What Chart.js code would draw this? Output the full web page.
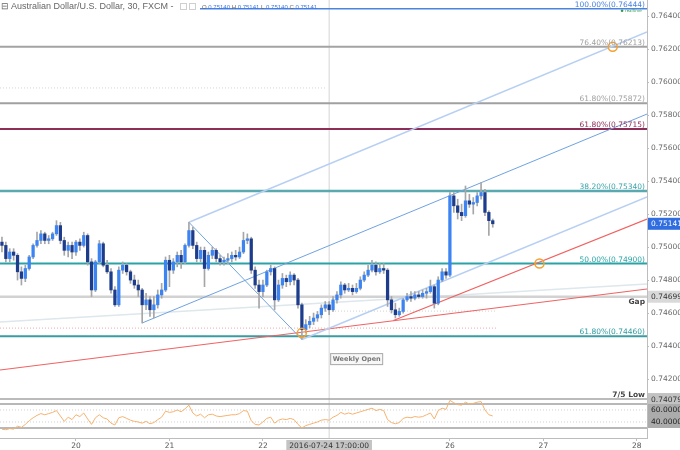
<!DOCTYPE html>
<html>
<head>
<meta charset="utf-8">
<script src="https://cdn.jsdelivr.net/npm/chart.js@4.4.1/dist/chart.umd.min.js"></script>
<style>
html,body{margin:0;padding:0;background:#ffffff;overflow:hidden;}
#wrap{position:relative;width:680px;height:450px;}
canvas{display:block;}
</style>
</head>
<body>
<div id="wrap"><canvas id="chart" width="680" height="450"></canvas></div>
<script>
// ================= DATA =================
// x = trading hours counted from 20 Jul 00:00 (weekend removed); one candle per hour
const firstHour = -19;
const opens = [
0.7503,0.7501,0.7493,0.7497,0.7495,0.7485,0.7481,0.7487,0.7494,0.7501,
0.7504,0.7508,0.7504,0.7505,0.7508,0.7513,0.7504,0.7498,0.7501,0.7497,
0.7503,0.7501,0.7507,0.7491,0.7474,0.7491,0.7502,0.7489,0.7485,0.7474,
0.7465,0.7486,0.7489,0.7485,0.7480,0.7477,0.7474,0.7465,0.7468,0.7462,
0.7465,0.7471,0.7474,0.7492,0.7486,0.7491,0.7495,0.7491,0.7501,0.7510,
0.7501,0.7493,0.7498,0.7487,0.7495,0.7498,0.7493,0.7491,0.7492,0.7493,
0.7495,0.7494,0.7497,0.7504,0.7505,0.7486,0.7477,0.7473,0.7477,0.7485,
0.7487,0.7468,0.7477,0.7481,0.7479,0.7483,0.7480,0.7465,0.7450,0.7453,
0.7455,0.7457,0.7459,0.7463,0.7465,0.7462,0.7468,0.7471,0.7477,0.7474,
0.7475,0.7473,0.7475,0.7480,0.7483,0.7486,0.7489,0.7485,0.7487,0.7486,
0.7468,0.7462,0.7459,0.7461,0.7468,0.7470,0.7469,0.7471,0.7470,0.7472,
0.7473,0.7476,0.7466,0.7480,0.7485,0.7483,0.7531,0.7525,0.7521,0.7519,
0.7528,0.7526,0.7527,0.7531,0.7533,0.7521,0.7516];
const highs = [
0.7506,0.7503,0.7499,0.7499,0.7496,0.7488,0.7489,0.7495,0.7502,0.7509,
0.7510,0.7509,0.7507,0.7509,0.7516,0.7515,0.7506,0.7503,0.7503,0.7504,
0.7505,0.7509,0.7508,0.7493,0.7492,0.7504,0.7503,0.7492,0.7487,0.7476,
0.7488,0.7491,0.7490,0.7486,0.7483,0.7480,0.7475,0.7472,0.7470,0.7470,
0.7474,0.7478,0.7494,0.7495,0.7493,0.7497,0.7498,0.7502,0.7515,0.7512,
0.7503,0.7500,0.7500,0.7497,0.7500,0.7499,0.7495,0.7494,0.7496,0.7497,
0.7498,0.7500,0.7509,0.7508,0.7506,0.7488,0.7480,0.7480,0.7486,0.7489,
0.7488,0.7480,0.7484,0.7483,0.7485,0.7484,0.7481,0.7466,0.7456,0.7458,
0.7460,0.7461,0.7465,0.7467,0.7467,0.7470,0.7473,0.7479,0.7478,0.7478,
0.7477,0.7478,0.7482,0.7485,0.7489,0.7492,0.7491,0.7490,0.7490,0.7487,
0.7470,0.7466,0.7463,0.7469,0.7472,0.7473,0.7473,0.7473,0.7474,0.7475,
0.7480,0.7477,0.7482,0.7487,0.7487,0.7533,0.7533,0.7529,0.7526,0.7537,
0.7532,0.7530,0.7533,0.7539,0.7535,0.7522,0.7517];
const lows = [
0.7497,0.7491,0.7491,0.7492,0.7480,0.7477,0.7479,0.7486,0.7493,0.7500,
0.7502,0.7502,0.7502,0.7504,0.7507,0.7502,0.7495,0.7494,0.7493,0.7495,
0.7498,0.7500,0.7489,0.7470,0.7473,0.7490,0.7488,0.7484,0.7472,0.7464,
0.7464,0.7484,0.7483,0.7478,0.7475,0.7470,0.7454,0.7462,0.7458,0.7457,
0.7463,0.7469,0.7473,0.7476,0.7484,0.7488,0.7487,0.7490,0.7500,0.7499,
0.7491,0.7491,0.7476,0.7486,0.7493,0.7491,0.7489,0.7489,0.7490,0.7491,
0.7492,0.7493,0.7496,0.7502,0.7484,0.7475,0.7463,0.7470,0.7476,0.7483,
0.7462,0.7467,0.7475,0.7476,0.7477,0.7477,0.7463,0.7444,0.7448,0.7451,
0.7453,0.7455,0.7457,0.7461,0.7459,0.7461,0.7466,0.7469,0.7472,0.7473,
0.7471,0.7472,0.7474,0.7479,0.7482,0.7485,0.7483,0.7484,0.7484,0.7464,
0.7460,0.7457,0.7458,0.7460,0.7467,0.7467,0.7468,0.7469,0.7469,0.7469,
0.7472,0.7463,0.7465,0.7479,0.7481,0.7482,0.7521,0.7517,0.7516,0.7518,
0.7524,0.7520,0.7525,0.7529,0.7519,0.7507,0.7512];
const closes = [
0.7501,0.7493,0.7497,0.7495,0.7485,0.7481,0.7487,0.7494,0.7501,0.7504,
0.7508,0.7504,0.7505,0.7508,0.7513,0.7504,0.7498,0.7501,0.7497,0.7503,
0.7501,0.7507,0.7491,0.7474,0.7491,0.7502,0.7489,0.7485,0.7474,0.7465,
0.7486,0.7489,0.7485,0.7480,0.7477,0.7474,0.7465,0.7468,0.7462,0.7465,
0.7471,0.7474,0.7492,0.7486,0.7491,0.7495,0.7491,0.7501,0.7510,0.7501,
0.7493,0.7498,0.7487,0.7495,0.7498,0.7493,0.7491,0.7492,0.7493,0.7495,
0.7494,0.7497,0.7504,0.7505,0.7486,0.7477,0.7473,0.7477,0.7485,0.7487,
0.7468,0.7477,0.7481,0.7479,0.7483,0.7480,0.7465,0.7450,0.7453,0.7455,
0.7457,0.7459,0.7463,0.7465,0.7462,0.7468,0.7471,0.7477,0.7474,0.7475,
0.7473,0.7475,0.7480,0.7483,0.7486,0.7489,0.7485,0.7487,0.7486,0.7468,
0.7462,0.7459,0.7461,0.7468,0.7470,0.7469,0.7471,0.7470,0.7472,0.7473,
0.7476,0.7466,0.7480,0.7485,0.7483,0.7531,0.7525,0.7521,0.7519,0.7528,
0.7526,0.7527,0.7531,0.7533,0.7521,0.7516,0.75141];
const rsiValues = [
28,27,29,28,33,31,36,42,47,51,
54,52,54,56,59,50,41,48,44,52,
49,55,45,36,47,52,47,45,38,35,
47,49,46,43,41,40,38,41,37,39,
44,48,58,56,57,60,57,62,68,55,
50,53,47,52,53,50,49,50,51,52,
52,54,59,58,42,36,35,40,46,48,
38,43,45,44,46,44,36,30,34,36,
38,40,43,44,43,48,51,56,53,55,
53,55,57,59,61,63,59,61,59,44,
39,37,39,46,48,47,49,48,49,52,
55,45,59,63,61,76,72,69,68,73,
70,71,73,74,60,52,50];

const xTickHours  = [0, 24, 48, 96, 120, 144];
const xTickLabels = ['20', '21', '22', '26', '27', '28'];
const priceTicks  = [0.742, 0.744, 0.746, 0.748, 0.750, 0.752, 0.754, 0.756, 0.758, 0.760, 0.762, 0.764];

const fibLevels = [0.76444, 0.76213, 0.75872, 0.75715, 0.75340, 0.74900, 0.74460];
const fibLabels = ['100.00%(0.76444)', '76.40%(0.76213)', '61.80%(0.75872)', '61.80%(0.75715)',
                   '38.20%(0.75340)', '50.00%(0.74900)', '61.80%(0.74460)'];
const gapLevel = 0.74699;
const lowLevel = 0.74079;
const lastPrice = 0.75141;
const lastBar = {o: 0.75140, h: 0.75141, l: 0.75140, c: 0.75141};
const rsiBands = [70, 30];
const rsiMids = [60, 40];
const weeklyOpenHour = 65;
const weeklyOpenStamp = '2016-07-24 17:00:00';

// trend lines: [hour, price] pairs
const forkUpper  = [[29, 0.7515], [146.6, 0.76303]];
const forkMiddle = [[17, 0.7454], [146.6, 0.75806]];
const forkLower  = [[58, 0.7444], [146.6, 0.75303]];
const forkHandle = [[29, 0.7515], [58, 0.7444]];
const redLong    = [[-19.5, 0.74255], [146.6, 0.74746]];
const redShort   = [[81.5, 0.74555], [146.6, 0.7517]];
const faintLine  = [[-19.5, 0.74546], [146.6, 0.74776]];
const dotGrayHi  = [[-19.5, 0.75964], [64.2, 0.75964]];
const dotPink    = [[-19.5, 0.74509], [108, 0.74509]];
const dotGrayLo  = [[64.2, 0.74612], [108, 0.74612]];
const markers    = [[137.8, 0.76213], [58, 0.7448], [119, 0.749]];

// ================= VIEW / STYLE =================
const xMin = -19.5, xMax = 146.6;
const yMin = 0.73843, yMax = 0.76497;
const rMin = 13.3, rMax = 743.3;
const FONT = '"DejaVu Sans", sans-serif';
const fibColors = ['#4a83e0', '#a3a3a3', '#a0a0a0', '#8c2e58', '#5aa9b1', '#2ba3a6', '#3a9ca2'];
const fibTextColors = ['#4a83e0', '#a0a0a0', '#a0a0a0', '#8c2e58', '#3aa3ab', '#2ba3a6', '#2f9aa0'];
const fibWidths = [1.5, 2, 2, 2, 2.5, 2, 2];
const upColor = '#3b84f2', downColor = '#1d3d8c', wickColor = '#a6a6a6';

function seg(points, color, width, dash, axis, order) {
  return {
    type: 'line',
    data: points.map(p => ({x: p[0], y: p[1]})),
    borderColor: color, borderWidth: width, borderDash: dash || [],
    pointRadius: 0, fill: false, tension: 0,
    yAxisID: axis || 'y', order: order === undefined ? 5 : order
  };
}

const datasets = [];
datasets.push({
  type: 'line', data: markers.map(p => ({x: p[0], y: p[1]})), showLine: false,
  pointRadius: 4.5, pointBorderColor: '#f5a02f', pointBackgroundColor: 'rgba(0,0,0,0)',
  pointBorderWidth: 1.5, yAxisID: 'y', order: 0
});
datasets.push({
  type: 'bar',
  data: opens.map((o, i) => ({x: firstHour + i, y: [o, closes[i]]})),
  backgroundColor: c => closes[c.dataIndex] >= opens[c.dataIndex] ? upColor : downColor,
  borderWidth: 0, barThickness: 2.6, grouped: false, minBarLength: 1, yAxisID: 'y', order: 1
});
datasets.push({
  type: 'bar',
  data: lows.map((l, i) => ({x: firstHour + i, y: [l, highs[i]]})),
  backgroundColor: wickColor, borderWidth: 0, barThickness: 1, grouped: false, yAxisID: 'y', order: 2
});
datasets.push({
  type: 'line', data: rsiValues.map((v, i) => ({x: firstHour + i, y: v})),
  borderColor: '#f6b26e', borderWidth: 1, pointRadius: 0, fill: false, tension: 0,
  yAxisID: 'yRsi', order: 3
});
datasets.push(seg(forkUpper, '#b7cff3', 1.5, null, 'y', 4));
datasets.push(seg(forkMiddle, '#6fa2e0', 1, null, 'y', 4));
datasets.push(seg(forkLower, '#b7cff3', 1.5, null, 'y', 4));
datasets.push(seg(forkHandle, '#6fa2e0', 1, null, 'y', 4));
datasets.push(seg(redLong, '#f06262', 1.2, null, 'y', 4));
datasets.push(seg(redShort, '#f06262', 1.2, null, 'y', 4));
datasets.push(seg(faintLine, '#dde7ec', 1.5, null, 'y', 6));
datasets.push(seg(dotGrayHi, '#d5d5d5', 1, [1, 2], 'y', 6));
datasets.push(seg(dotPink, '#f3a9a9', 1, [1, 2], 'y', 6));
datasets.push(seg(dotGrayLo, '#cfcfcf', 1, [1, 2], 'y', 6));
fibLevels.forEach((v, i) => datasets.push(seg([[xMin, v], [xMax, v]], fibColors[i], fibWidths[i], null, 'y', 5)));
datasets.push(seg([[xMin, gapLevel], [xMax, gapLevel]], '#d2d2d2', 2.5, null, 'y', 5));
datasets.push(seg([[xMin, lowLevel], [xMax, lowLevel]], '#a5a5a5', 1.5, null, 'y', 5));
rsiBands.forEach(v => datasets.push(seg([[xMin, v], [xMax, v]], '#a0a0a0', 1.5, null, 'yRsi', 5)));
rsiMids.forEach(v => datasets.push(seg([[xMin, v], [xMax, v]], '#d0d0d0', 1, [1, 2], 'yRsi', 5)));
datasets.push(seg([[weeklyOpenHour, yMin], [weeklyOpenHour, yMax]], '#d4d4d4', 1, null, 'y', 7));

const overlay = {
  id: 'overlay',
  afterDraw(chart) {
    const {ctx, chartArea: a} = chart;
    const xs = chart.scales.x, ys = chart.scales.y, rs = chart.scales.yRsi;
    ctx.save();
    ctx.font = '7.5px ' + FONT;
    ctx.textAlign = 'right';
    ctx.textBaseline = 'alphabetic';
    fibLevels.forEach((v, i) => {
      ctx.fillStyle = fibTextColors[i];
      ctx.fillText(fibLabels[i], a.right - 2, ys.getPixelForValue(v) - 2);
    });
    ctx.font = 'bold 7.5px ' + FONT;
    ctx.fillStyle = '#444';
    ctx.fillText('7/5 Low', a.right - 2, ys.getPixelForValue(lowLevel) - 2);
    ctx.textBaseline = 'top';
    ctx.fillText('Gap', a.right - 2, ys.getPixelForValue(gapLevel) + 2);

    ctx.fillStyle = '#2f9a4f';
    ctx.beginPath();
    ctx.arc(xs.getPixelForValue(140.2), ys.getPixelForValue(0.76444) + 2, 1.3, 0, Math.PI * 2);
    ctx.fill();
    ctx.font = '4px ' + FONT;
    ctx.textAlign = 'left';
    ctx.textBaseline = 'middle';
    ctx.fillText('realtime', xs.getPixelForValue(140.2) + 3, ys.getPixelForValue(0.76444) + 2);

    function box(yPix, text, bg, fg) {
      ctx.fillStyle = bg;
      ctx.fillRect(a.right + 1, yPix - 6, chart.width - a.right - 1, 12);
      ctx.fillStyle = fg;
      ctx.font = '7.5px ' + FONT;
      ctx.textAlign = 'left';
      ctx.textBaseline = 'middle';
      ctx.fillText(text, a.right + 4, yPix + 0.5);
    }
    box(ys.getPixelForValue(lastPrice), lastPrice.toFixed(5), '#2f6de1', '#ffffff');
    box(ys.getPixelForValue(gapLevel), gapLevel.toFixed(5), '#d9d9d9', '#333');
    box(ys.getPixelForValue(lowLevel), lowLevel.toFixed(5), '#c2c2c2', '#333');
    box(rs.getPixelForValue(rsiMids[0]), rsiMids[0].toFixed(4), '#ababab', '#222');
    box(rs.getPixelForValue(rsiMids[1]), rsiMids[1].toFixed(4), '#ababab', '#222');

    const wx = xs.getPixelForValue(weeklyOpenHour);
    const wy = ys.getPixelForValue(0.74321);
    ctx.font = 'bold 6.5px ' + FONT;
    const ww = ctx.measureText('Weekly Open').width + 4;
    ctx.fillStyle = '#f7f7f7';
    ctx.fillRect(wx + 1, wy - 6, ww, 12);
    ctx.strokeStyle = '#a8a8a8';
    ctx.lineWidth = 1;
    ctx.strokeRect(wx + 1.5, wy - 5.5, ww, 11);
    ctx.fillStyle = '#777';
    ctx.textAlign = 'left';
    ctx.textBaseline = 'middle';
    ctx.fillText('Weekly Open', wx + 3.5, wy + 0.5);

    ctx.font = '7.5px ' + FONT;
    const dw = ctx.measureText(weeklyOpenStamp).width + 6;
    ctx.fillStyle = '#c4c4c4';
    ctx.fillRect(wx - dw / 2, a.bottom + 2, dw, chart.height - a.bottom - 2);
    ctx.fillStyle = '#333';
    ctx.textAlign = 'center';
    ctx.fillText(weeklyOpenStamp, wx, a.bottom + 8);

    ctx.fillStyle = '#ffffff';
    ctx.fillRect(0, 0, 200, 13);
    ctx.font = '9px "Liberation Sans", sans-serif';
    ctx.textAlign = 'left';
    ctx.textBaseline = 'middle';
    ctx.fillStyle = '#666';
    ctx.fillText('\u229F', 1, 7);
    ctx.fillText('Australian Dollar/U.S. Dollar, 30, FXCM -', 11, 7);
    ctx.strokeStyle = '#cfcfcf';
    ctx.strokeRect(180.5, 3.5, 6, 6);
    ctx.strokeRect(189.5, 3.5, 6, 6);
    let tx = 202;
    ctx.font = '6px "Liberation Sans", sans-serif';
    [['O ', lastBar.o], [' H ', lastBar.h], [' L ', lastBar.l], [' C ', lastBar.c]].forEach(([k, v]) => {
      ctx.fillStyle = '#666';
      ctx.fillText(k, tx, 7); tx += ctx.measureText(k).width;
      const s = v.toFixed(5);
      ctx.fillStyle = '#3b78e7';
      ctx.fillText(s, tx, 7); tx += ctx.measureText(s).width;
    });
    ctx.restore();
  }
};

new Chart(document.getElementById('chart'), {
  type: 'bar',
  data: {datasets},
  options: {
    responsive: false,
    animation: false,
    devicePixelRatio: 1,
    layout: {padding: 0, autoPadding: false},
    plugins: {legend: {display: false}, tooltip: {enabled: false}},
    scales: {
      x: {
        type: 'linear', axis: 'x', position: 'bottom', min: xMin, max: xMax, offset: false,
        afterBuildTicks: s => { s.ticks = xTickHours.map(v => ({value: v})); },
        afterFit: s => { s.height = 12; s.paddingLeft = 0; s.paddingRight = 0; },
        ticks: {
          autoSkip: false, maxRotation: 0, padding: 1, color: '#555',
          font: {family: FONT, size: 7.5},
          callback: (v, i) => xTickLabels[i]
        },
        grid: {drawOnChartArea: false, drawTicks: true, tickLength: 3, color: '#bdbdbd', offset: false},
        border: {color: '#bdbdbd'}
      },
      y: {
        type: 'linear', axis: 'y', position: 'right', min: yMin, max: yMax,
        afterBuildTicks: s => { s.ticks = priceTicks.map(v => ({value: v})); },
        afterFit: s => { s.width = 33; s.paddingTop = 0; s.paddingBottom = 0; },
        ticks: {
          padding: 2, color: '#666', font: {family: FONT, size: 7.5},
          callback: v => Number(v).toFixed(5)
        },
        grid: {drawOnChartArea: false, drawTicks: true, tickLength: 2, color: '#bdbdbd'},
        border: {color: '#bdbdbd'}
      },
      yRsi: {type: 'linear', axis: 'y', position: 'right', display: false, min: rMin, max: rMax}
    }
  },
  plugins: [overlay]
});
</script>
</body>
</html>
